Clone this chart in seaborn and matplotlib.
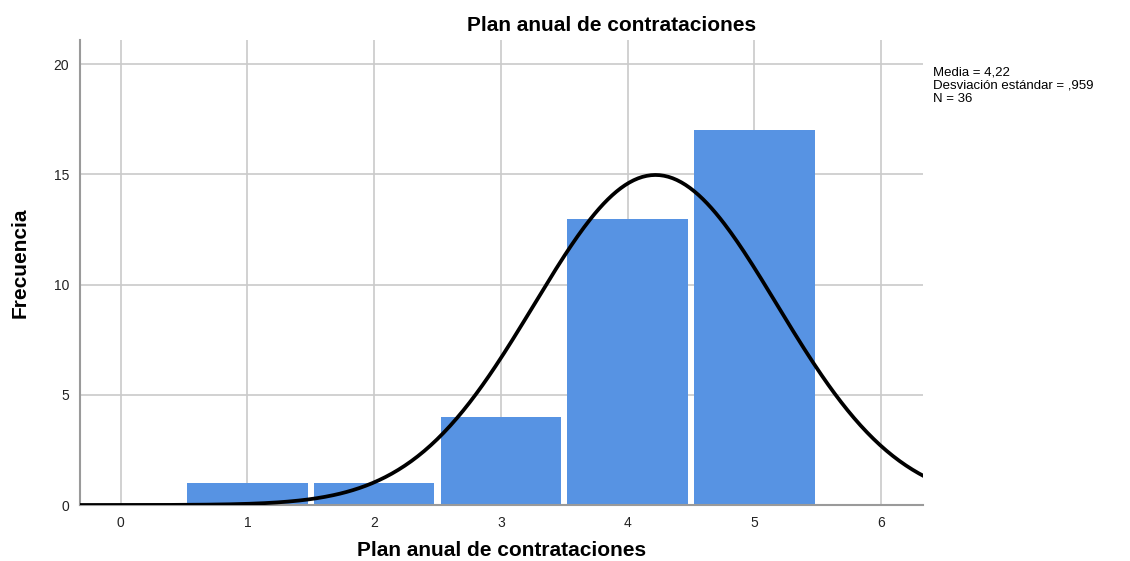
import numpy as np
import pandas as pd
import seaborn as sns
import matplotlib.pyplot as plt

# datos
valores = [1, 2, 3, 4, 5]
frecuencias = [1, 1, 4, 13, 17]
media = 4.22
desv = 0.959
n = 36

sns.set_theme(style="white")
plt.rcParams['font.family'] = ['Liberation Sans', 'DejaVu Sans']
plt.rcParams['text.color'] = 'black'
plt.rcParams['axes.labelcolor'] = 'black'

fig = plt.figure(figsize=(11.3, 5.61), dpi=100)
ax = fig.add_axes([0.0708, 0.0998, 0.746, 0.8289])

df = pd.DataFrame({'x': valores, 'f': frecuencias})
sns.histplot(data=df, x='x', weights='f', bins=[0.5, 1.5, 2.5, 3.5, 4.5, 5.5],
             shrink=0.95, color='#5793e3', alpha=1, linewidth=0, ax=ax, zorder=2)

# curva normal
xs = np.linspace(-0.4, 6.4, 400)
ys = n * 1.0 / (desv * np.sqrt(2 * np.pi)) * np.exp(-0.5 * ((xs - media) / desv) ** 2)
sns.lineplot(x=xs, y=ys, color='black', linewidth=2.7, ax=ax, zorder=3)

ax.set_xlim(-0.32, 6.33)
ax.set_ylim(0, 21.1)
ax.set_xticks(range(0, 7))
ax.set_yticks([0, 5, 10, 15, 20])
ax.grid(True, color='#cacaca', linewidth=1.2, zorder=0)
ax.set_axisbelow(True)
for s in ['top', 'right']:
    ax.spines[s].set_visible(False)
for s in ['left', 'bottom']:
    ax.spines[s].set_color('#9a9a9a')
    ax.spines[s].set_linewidth(1.5)
ax.tick_params(length=0, labelsize=10, colors='#222222', pad=8)

fig.text(0.541, 0.954, 'Plan anual de contrataciones', fontsize=15, fontweight='bold',
         ha='center', va='center')
ax.set_xlabel('Plan anual de contrataciones', fontsize=15, fontweight='bold')
ax.xaxis.set_label_coords(0.5, -0.078)
ax.set_ylabel('Frecuencia', fontsize=15, fontweight='bold')
ax.yaxis.set_label_coords(-0.06, 0.52)

fig.text(0.826, 0.882, 'Media = 4,22\nDesviación estándar = ,959\nN = 36',
         fontsize=9.5, va='top', ha='left', linespacing=1.15)

fig.savefig('out.png', dpi=100)
